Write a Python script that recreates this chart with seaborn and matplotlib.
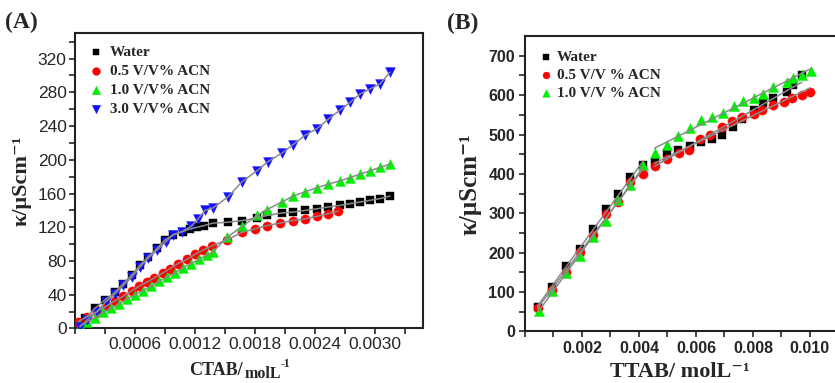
import numpy as np
import pandas as pd
import matplotlib
matplotlib.use("Agg")
import matplotlib.pyplot as plt
from matplotlib.ticker import MultipleLocator, FixedLocator
import seaborn as sns

# ---------------- Panel A data (CTAB) ----------------
a_water_x = [0.0001, 0.0002, 0.0003, 0.0004, 0.00048, 0.00057, 0.00065, 0.00073, 0.00082, 0.0009,
             0.00098, 0.00108, 0.00115, 0.00122, 0.00129, 0.00138, 0.00153, 0.00167, 0.00182, 0.00192,
             0.00207, 0.00218, 0.0023, 0.00242, 0.00253, 0.00265, 0.00275, 0.00285, 0.00295, 0.00305, 0.00315]
a_water_y = [12, 24, 34, 43, 53, 64, 75, 85, 95, 105,
             111, 115, 118, 120, 122, 125, 126, 128, 131, 134,
             137, 138, 140, 142, 144, 146, 148, 150, 152, 154, 157]

a_05_x = [0.00003, 0.00012, 0.00022, 0.00032, 0.0004, 0.00048, 0.00057, 0.00064, 0.00072, 0.00079,
          0.00088, 0.00095, 0.00103, 0.00112, 0.0012, 0.00128, 0.00137, 0.00152, 0.00167, 0.0018,
          0.00192, 0.00205, 0.00218, 0.0023, 0.00242, 0.00253, 0.00263]
a_05_y = [8, 14, 20, 27, 33, 38, 45, 50, 55, 60,
          66, 71, 77, 82, 88, 93, 98, 105, 114, 118,
          122, 125, 128, 130, 133, 136, 139]

a_10_x = [0.00005, 0.00012, 0.0002, 0.00028, 0.00036, 0.00044, 0.00052, 0.0006, 0.00068, 0.00076,
          0.00084, 0.00092, 0.001, 0.00108, 0.00116, 0.00124, 0.00132, 0.00138, 0.00152, 0.00167,
          0.00182, 0.00192, 0.00207, 0.00218, 0.0023, 0.00242, 0.00253, 0.00265, 0.00275, 0.00285,
          0.00295, 0.00305, 0.00315]
a_10_y = [3, 8, 13, 19, 24, 29, 35, 40, 45, 50,
          56, 61, 66, 72, 77, 82, 87, 91, 108, 121,
          134, 141, 150, 157, 162, 167, 171, 175, 179, 183,
          187, 191, 195]

a_30_x = [0.00005, 0.00012, 0.00022, 0.00031, 0.0004, 0.00048, 0.00057, 0.00065, 0.00073, 0.00082,
          0.00091, 0.00098, 0.00107, 0.00116, 0.00123, 0.0013, 0.00138, 0.00153, 0.00167, 0.00182,
          0.00193, 0.00207, 0.00218, 0.0023, 0.00242, 0.00253, 0.00265, 0.00275, 0.00285, 0.00295,
          0.00305, 0.00315]
a_30_y = [2, 10, 20, 32, 41, 51, 61, 73, 83, 93,
          103, 111, 115, 121, 130, 140, 143, 156, 174, 187,
          198, 208, 218, 229, 237, 248, 259, 268, 278, 284,
          290, 304]

# ---------------- Panel B data (TTAB) ----------------
b_water_x = [0.00044, 0.00095, 0.00145, 0.00192, 0.00239, 0.00285, 0.00328, 0.0037, 0.00414, 0.00455,
             0.00498, 0.00537, 0.00578, 0.00617, 0.00656, 0.00693, 0.00729, 0.00763, 0.00802, 0.00837,
             0.0087, 0.00919, 0.0094, 0.00972]
b_water_y = [63, 113, 166, 210, 259, 310, 349, 393, 422, 430,
             452, 462, 471, 480, 490, 500, 519, 539, 562, 581,
             592, 609, 626, 652]

b_05_x = [0.00044, 0.00095, 0.00145, 0.00192, 0.00239, 0.00285, 0.00328, 0.0037, 0.00414, 0.00455,
          0.00498, 0.00539, 0.00576, 0.00615, 0.0065, 0.00691, 0.00726, 0.00761, 0.00802, 0.00832,
          0.00872, 0.00908, 0.00937, 0.00972, 0.01]
b_05_y = [60, 106, 152, 202, 244, 298, 329, 380, 401, 420,
          437, 452, 460, 490, 499, 520, 534, 545, 553, 562,
          575, 583, 594, 600, 609]

b_10_x = [0.00048, 0.00095, 0.00145, 0.00192, 0.00239, 0.00285, 0.00328, 0.0037, 0.00414, 0.00455,
          0.00498, 0.00537, 0.00578, 0.00619, 0.00656, 0.00695, 0.00732, 0.00765, 0.00802, 0.00837,
          0.0087, 0.00919, 0.0094, 0.00972, 0.01005]
b_10_y = [53, 103, 148, 191, 240, 281, 333, 372, 422, 452,
          473, 496, 516, 537, 545, 556, 573, 584, 594, 603,
          620, 634, 643, 652, 662]

labels_a = ["Water", "0.5 V/V% ACN", "1.0 V/V% ACN", "3.0 V/V% ACN"]
labels_b = ["Water", "0.5 V/V % ACN", "1.0 V/V % ACN"]

# ---------------- styling ----------------
sns.set_style("ticks")
plt.rcParams["font.family"] = ["Liberation Sans", "DejaVu Sans"]
serif = ["Liberation Serif", "DejaVu Serif"]

colors = {"Water": "#000000", "0.5": "#ff0000", "1.0": "#00ee00", "3.0": "#1010ff"}
line_c = "#8a8a8a"

fig = plt.figure(figsize=(8.35, 3.83), dpi=100)
axA = fig.add_axes([0.0898, 0.1423, 0.4168, 0.7707])
axB = fig.add_axes([0.6287, 0.1345, 0.3713, 0.7702])

def series(ax, x, y, marker, color, label, size, line=True):
    df = pd.DataFrame({"x": x, "y": y})
    sns.scatterplot(data=df, x="x", y="y", ax=ax, marker=marker, color=color, s=size,
                    edgecolor=color, linewidth=0.3, label=label, zorder=3)
    if line:
        sns.lineplot(data=df, x="x", y="y", ax=ax, color=line_c, lw=1.1, zorder=4,
                     sort=True, estimator=None, legend=False)

# Panel A
series(axA, a_water_x, a_water_y, "s", colors["Water"], labels_a[0], 34)
series(axA, a_05_x, a_05_y, "o", colors["0.5"], labels_a[1], 44)
series(axA, a_10_x, a_10_y, "^", colors["1.0"], labels_a[2], 50)
series(axA, a_30_x, a_30_y, "v", colors["3.0"], labels_a[3], 50)

axA.set_xlim(0, 0.00348)
axA.set_ylim(0, 350)
axA.xaxis.set_major_locator(FixedLocator([0.0006, 0.0012, 0.0018, 0.0024, 0.0030]))
axA.xaxis.set_minor_locator(MultipleLocator(0.0003))
axA.yaxis.set_major_locator(MultipleLocator(40))
axA.yaxis.set_minor_locator(MultipleLocator(20))
axA.set_xticklabels(["0.0006", "0.0012", "0.0018", "0.0024", "0.0030"])
axA.tick_params(axis="both", which="major", direction="out", length=4, width=1.2,
                labelsize=12.5, pad=2)
axA.tick_params(axis="both", which="minor", direction="out", length=4, width=1.2)
for s in axA.spines.values():
    s.set_linewidth(1.5)
    s.set_color("#222222")
axA.set_xlabel("")
axA.set_ylabel("\u03ba/\u03bcScm\u207b\u00b9", family=serif, fontweight="bold", fontsize=16, labelpad=4)
legA = axA.legend(loc="upper left", bbox_to_anchor=(0.0, 1.0), frameon=False,
                  prop={"family": serif, "weight": "bold", "size": 11},
                  handletextpad=0.3, labelspacing=0.35, borderaxespad=0.4, markerscale=0.85,
                  handlelength=1.2)

# x label of panel A: "CTAB/" + lowered "molL" + superscript "-1"
fig.text(243 / 835, 1 - 375 / 383, "CTAB/", family=serif, fontweight="bold", fontsize=13,
         ha="right", va="baseline")
fig.text(245 / 835, 1 - 377.5 / 383, "molL", family=serif, fontweight="bold", fontsize=11.5,
         ha="left", va="baseline")
fig.text(281 / 835, 1 - 367 / 383, "-1", family=serif, fontweight="bold", fontsize=8.5,
         ha="left", va="baseline")

# Panel B
def series_b(ax, x, y, marker, color, label, size):
    df = pd.DataFrame({"x": x, "y": y})
    sns.scatterplot(data=df, x="x", y="y", ax=ax, marker=marker, color=color, s=size,
                    edgecolor=color, linewidth=0.3, label=label, zorder=3)
    pre = df[df["x"] < 0.0043]
    post = df[df["x"] > 0.0043]
    for part in (pre, post):
        sns.regplot(data=part, x="x", y="y", ax=ax, scatter=False, ci=None, truncate=True,
                    color=line_c, line_kws={"lw": 1.1, "zorder": 4})

series_b(axB, b_water_x, b_water_y, "s", colors["Water"], labels_b[0], 36)
series_b(axB, b_05_x, b_05_y, "o", colors["0.5"], labels_b[1], 44)
series_b(axB, b_10_x, b_10_y, "^", colors["1.0"], labels_b[2], 52)

axB.set_xlim(0, 0.01088)
axB.set_ylim(0, 749)
axB.xaxis.set_major_locator(FixedLocator([0.002, 0.004, 0.006, 0.008, 0.010]))
axB.xaxis.set_minor_locator(MultipleLocator(0.001))
axB.set_xticklabels(["0.002", "0.004", "0.006", "0.008", "0.010"])
axB.yaxis.set_major_locator(MultipleLocator(100))
axB.yaxis.set_minor_locator(MultipleLocator(50))
axB.tick_params(axis="both", which="major", direction="out", length=4, width=1.2,
                labelsize=11.5, pad=3)
axB.tick_params(axis="both", which="minor", direction="out", length=4, width=1.2)
for lab in axB.get_xticklabels() + axB.get_yticklabels():
    lab.set_fontweight("bold")
for s in axB.spines.values():
    s.set_linewidth(1.5)
    s.set_color("#222222")
axB.spines["right"].set_visible(False)
axB.set_xlabel("TTAB/ molL\u207b\u00b9", family=serif, fontweight="bold", fontsize=16, labelpad=4)
axB.set_ylabel("\u03ba/\u03bcScm\u207b\u00b9", family=serif, fontweight="bold", fontsize=18, labelpad=5)
legB = axB.legend(loc="upper left", bbox_to_anchor=(0.0, 1.0), frameon=False,
                  prop={"family": serif, "weight": "bold", "size": 11},
                  handletextpad=0.2, labelspacing=0.3, borderaxespad=0.5, markerscale=0.75,
                  handlelength=1.0)

fig.text(0.006, 0.942, "(A)", family=serif, fontweight="bold", fontsize=17, va="center", ha="left")
fig.text(0.535, 0.940, "(B)", family=serif, fontweight="bold", fontsize=17, va="center", ha="left")

fig.savefig("out.png", dpi=100)
